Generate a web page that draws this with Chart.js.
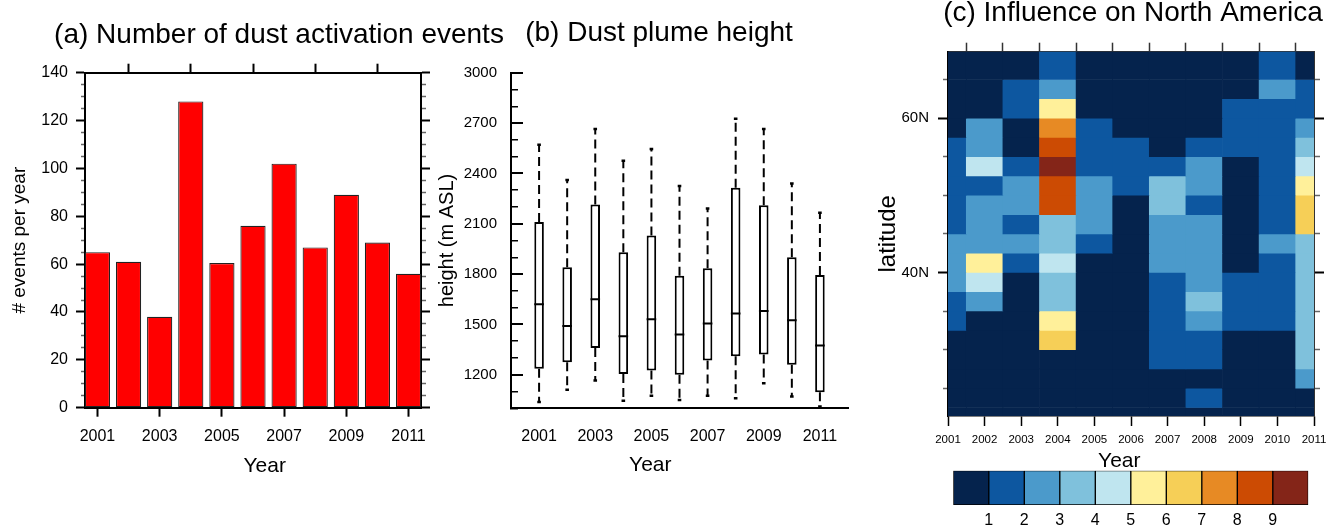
<!DOCTYPE html>
<html>
<head>
<meta charset="utf-8">
<script src="https://cdn.jsdelivr.net/npm/chart.js@4.4.1/dist/chart.umd.min.js"></script>
<style>
  html, body { margin: 0; padding: 0; background: #fff; overflow: hidden; }
  body { width: 1328px; height: 528px; position: relative; }
  canvas { position: absolute; }
  #events { left: 0; top: 0; }
  #plume { left: 420px; top: 0; }
  #influence { left: 870px; top: -20px; }
  #colorbar { left: 940px; top: 462px; }
</style>
</head>
<body>
<canvas id="events" width="558" height="528"></canvas>
<canvas id="plume" width="478" height="528"></canvas>
<canvas id="influence" width="526" height="548"></canvas>
<canvas id="colorbar" width="388" height="66"></canvas>
<script>
Chart.defaults.font.family = "'Liberation Sans', Arial, Helvetica, sans-serif";
Chart.defaults.color = '#000';
Chart.defaults.animation = false;
Chart.defaults.responsive = false;
Chart.defaults.plugins.legend.display = false;
Chart.defaults.plugins.tooltip.enabled = false;

// years shown on every panel
const years = [2001, 2002, 2003, 2004, 2005, 2006, 2007, 2008, 2009, 2010, 2011];
const oddYears = [2001, 2003, 2005, 2007, 2009, 2011];

// (a) dust activation events per year
const eventCounts = [65, 61, 38, 128, 60.5, 76, 102, 67, 89, 69, 56];

// (b) plume height box plots (m ASL)
const plumeMax = [2570, 2360, 2665, 2475, 2545, 2325, 2190, 2725, 2665, 2340, 2165];
const plumeQ3  = [2110, 1840, 2215, 1930, 2030, 1790, 1835, 2315, 2210, 1900, 1795];
const plumeMed = [1620, 1490, 1650, 1430, 1530, 1440, 1505, 1565, 1580, 1525, 1375];
const plumeQ1  = [1235, 1275, 1360, 1205, 1225, 1200, 1285, 1310, 1320, 1260, 1095];
const plumeMin = [1037, 1110, 1165, 1045, 1075, 1050, 1075, 1060, 1150, 1070, 1010];

// (c) influence on North America: latitude band edges (north to south)
// and one string per band, one digit per year = colour class
const latEdges = [70, 65, 62.5, 60, 57.5, 55, 52.5, 50, 47.5, 45, 42.5, 40,
                  37.5, 35, 32.5, 30, 27.5, 25, 22.5, 20];
const classRows = [
  '00010000010',
  '00120000021',
  '00150000111',
  '02071000112',
  '12081101113',
  '14191112014',
  '11282132015',
  '12282031016',
  '12132022016',
  '22231022023',
  '25140022013',
  '24030012113',
  '12030013113',
  '10050012113',
  '00060011003',
  '00000011003',
  '00000000002',
  '00000001000',
  '00000000000'
];
const latTicks = [25, 30, 35, 40, 45, 50, 55, 60, 65];
const levelColors = ['#05234d', '#0d57a0', '#4b9acb', '#7fc1dc', '#bfe5ef',
                     '#fff09a', '#f6cf57', '#e78a24', '#cc4b03', '#842518'];
const levelTicks = [1, 2, 3, 4, 5, 6, 7, 8, 9];

// helpers
const fixWidth = (w) => (s) => { s.width = w; };
const fixHeight = (h) => (s) => { s.height = h; };
const setTicks = (vals) => (s) => { s.ticks = vals.map(v => ({ value: v })); };
const frame = { display: true, color: '#000', width: 2 };
// axis titles sit a bit off-centre in the original, nudge them with spaces
const nudge = (text, n) => n > 0 ? '\u00a0'.repeat(n) + text : text + '\u00a0'.repeat(-n);

// outward ticks, minor ones shorter and grey (dash keeps only the part by the frame)
function outTicks(isMajor, len, minorLen, fromOuter) {
  const major = (c) => !c.tick || isMajor(c.tick.value);
  return {
    drawOnChartArea: false,
    tickLength: len,
    tickWidth: (c) => major(c) ? 2 : 1.5,
    tickColor: (c) => major(c) ? '#000' : '#666',
    tickBorderDash: (c) => major(c) ? [] :
      (fromOuter ? [0, len - minorLen, minorLen, 200] : [minorLen, 200])
  };
}

// ---------- (a) ----------
const by20 = (v) => v % 20 === 0;
new Chart(document.getElementById('events'), {
  type: 'bar',
  data: {
    datasets: [{
      data: years.map((yr, i) => ({ x: yr, y: eventCounts[i] })),
      backgroundColor: '#ff0000',
      borderColor: '#222',
      borderWidth: 1.2,
      borderSkipped: false,
      categoryPercentage: 1,
      barPercentage: 0.81,
      clip: 0
    }]
  },
  options: {
    layout: { padding: 0 },
    plugins: {
      title: {
        display: true, text: '(a) Number of dust activation events',
        font: { size: 28, weight: 'normal' }, padding: { top: 18, bottom: 12.1 }
      }
    },
    scales: {
      x: {
        type: 'linear', position: 'bottom', min: 2000.6, max: 2011.4, offset: false,
        afterBuildTicks: setTicks(oddYears), afterFit: fixHeight(120.3),
        grid: { drawOnChartArea: false, offset: false, tickLength: 9, tickWidth: 2, tickColor: '#000' },
        border: frame,
        ticks: { font: { size: 16 }, padding: 10.4, maxRotation: 0, autoSkip: false, callback: v => String(v) },
        title: { display: true, text: nudge('Year', 4), font: { size: 21 }, padding: { top: 0, bottom: 49.4 } }
      },
      x2: {
        type: 'linear', position: 'top', min: 2000.6, max: 2011.4, offset: false,
        afterBuildTicks: setTicks(oddYears), afterFit: fixHeight(9),
        grid: { drawOnChartArea: false, tickLength: 9, tickWidth: 2, tickColor: '#000' },
        border: frame,
        ticks: { display: false }
      },
      y: {
        type: 'linear', position: 'left', min: 0, max: 140, afterFit: fixWidth(85),
        grid: outTicks(by20, 9, 4, true),
        border: frame,
        ticks: { stepSize: 5, autoSkip: false, font: { size: 16 }, padding: 8,
                 callback: v => by20(v) ? String(v) : '' },
        title: { display: true, text: '# events per year', font: { size: 19 }, padding: { top: 8.6, bottom: 0 } }
      },
      y2: {
        type: 'linear', position: 'right', min: 0, max: 140, afterFit: fixWidth(137),
        grid: outTicks(by20, 9, 4, false),
        border: frame,
        ticks: { display: false, stepSize: 5, autoSkip: false }
      }
    }
  }
});

// ---------- (b) ----------
const by300 = (v) => v >= 1200 && v % 300 === 0;
const whiskers = [];
years.forEach((yr, i) => {
  whiskers.push({ x: yr, y: plumeQ3[i] }, { x: yr, y: plumeMax[i] }, { x: yr, y: null },
                { x: yr, y: plumeQ1[i] }, { x: yr, y: plumeMin[i] }, { x: yr, y: null });
});
const caps = years.map((yr, i) => ({ x: yr, y: plumeMax[i] }))
  .concat(years.map((yr, i) => ({ x: yr, y: plumeMin[i] })));

// first dataset is drawn on top: medians and caps first, then boxes, whiskers last
new Chart(document.getElementById('plume'), {
  type: 'bar',
  data: {
    datasets: [
      {
        type: 'scatter', data: years.map((yr, i) => ({ x: yr, y: plumeMed[i] })),
        pointStyle: 'line', pointRadius: 4.8, borderColor: '#000',
        pointBorderColor: '#000', pointBorderWidth: 2, order: 0
      },
      {
        type: 'scatter', data: caps,
        pointStyle: 'line', pointRadius: 1.8, borderColor: '#000',
        pointBorderColor: '#000', pointBorderWidth: 2.5, order: 0
      },
      {
        type: 'bar',
        data: years.map((yr, i) => ({ x: yr, y: [plumeQ1[i], plumeQ3[i]] })),
        backgroundColor: '#fff', borderColor: '#000', borderWidth: 2,
        borderSkipped: false, categoryPercentage: 1, barPercentage: 0.34, order: 1
      },
      {
        type: 'line', data: whiskers, borderColor: '#000', borderWidth: 2,
        borderDash: [9, 5], pointRadius: 0, spanGaps: false, order: 2
      }
    ]
  },
  options: {
    layout: { padding: 0 },
    plugins: {
      title: {
        display: true, text: '(b) Dust plume height',
        font: { size: 28, weight: 'normal' }, padding: { top: 16.2, bottom: 22.9 }
      }
    },
    scales: {
      x: {
        type: 'linear', position: 'bottom', min: 2000, max: 2012, offset: false,
        afterBuildTicks: setTicks(oddYears), afterFit: fixHeight(119.7),
        grid: { display: false, drawTicks: false, offset: false },
        border: frame,
        ticks: { font: { size: 16 }, padding: 19, maxRotation: 0, autoSkip: false, callback: v => String(v) },
        title: { display: true, text: nudge('Year', -10), font: { size: 21 }, padding: { top: 0, bottom: 50.4 } }
      },
      y: {
        type: 'linear', position: 'left', min: 1000, max: 3000, afterFit: fixWidth(91),
        grid: {
          drawTicks: false, drawOnChartArea: true, color: '#000',
          lineWidth: (c) => (c.tick && by300(c.tick.value)) ? 2 : 1.5
        },
        border: {
          display: true, color: '#000', width: 2,
          dash: (c) => c.tick ? (by300(c.tick.value) ? [11, 4000] : [6, 4000]) : []
        },
        ticks: { stepSize: 100, autoSkip: false, font: { size: 15 }, padding: 14,
                 callback: v => by300(v) ? String(v) : '' },
        title: { display: true, text: 'height (m ASL)', font: { size: 20 }, padding: { top: 15.5, bottom: 0 } }
      },
      yR: {
        type: 'linear', position: 'right', afterFit: fixWidth(50),
        grid: { display: false, drawTicks: false },
        border: { display: false },
        ticks: { display: false }
      }
    }
  }
});

// ---------- (c) ----------
const by20N = (v) => v % 20 === 0;
const bandSets = classRows.map((row, r) => ({
  data: years.map((yr) => ({ x: yr, y: [latEdges[r + 1], latEdges[r]] })),
  backgroundColor: row.split('').map(d => levelColors[Number(d)]),
  borderWidth: 0,
  grouped: false,
  categoryPercentage: 1,
  barPercentage: 1,
  clip: 0
}));

new Chart(document.getElementById('influence'), {
  type: 'bar',
  data: { datasets: bandSets },
  options: {
    layout: { padding: 0 },
    plugins: {
      title: {
        display: true, text: '(c) Influence on North America',
        font: { size: 28, weight: 'normal' }, padding: { top: 16.2, bottom: 12.4 }
      }
    },
    scales: {
      x: {
        type: 'linear', position: 'bottom', min: 2001, max: 2011, offset: false,
        afterBuildTicks: setTicks(years), afterFit: fixHeight(112),
        grid: { drawOnChartArea: false, offset: false, tickLength: 10, tickWidth: 1.5, tickColor: '#000' },
        border: { display: true, color: '#000', width: 1.5 },
        ticks: { font: { size: 11.5 }, padding: 7, maxRotation: 0, autoSkip: false, callback: v => String(v) },
        title: { display: true, text: nudge('Year', -4), font: { size: 21 }, padding: { top: 0, bottom: 54.4 } }
      },
      x2: {
        type: 'linear', position: 'top', min: 2001, max: 2011, offset: false,
        afterBuildTicks: setTicks(years), afterFit: fixHeight(9.5),
        grid: { drawOnChartArea: false, tickLength: 9, tickWidth: 1.5, tickColor: '#333' },
        border: { display: true, color: '#333', width: 1 },
        ticks: { display: false }
      },
      y: {
        type: 'linear', position: 'left', min: 21.4, max: 68.6,
        afterBuildTicks: setTicks(latTicks), afterFit: fixWidth(78),
        grid: outTicks(by20N, 10, 5, true),
        border: { display: true, color: '#000', width: 1.5 },
        ticks: { font: { size: 15 }, padding: 9, autoSkip: false,
                 callback: v => by20N(v) ? v + 'N' : '' },
        title: { display: true, text: 'latitude', font: { size: 24 }, padding: { top: 3.9, bottom: 0 } }
      },
      y2: {
        type: 'linear', position: 'right', min: 21.4, max: 68.6,
        afterBuildTicks: setTicks(latTicks), afterFit: fixWidth(82),
        grid: outTicks(by20N, 10, 5, false),
        border: { display: true, color: '#333', width: 1 },
        ticks: { display: false }
      }
    }
  }
});

// ---------- colour bar ----------
new Chart(document.getElementById('colorbar'), {
  type: 'bar',
  data: {
    labels: [''],
    datasets: levelColors.map(col => ({
      data: [1], backgroundColor: col, borderColor: '#000', borderWidth: 1,
      borderSkipped: false, categoryPercentage: 1, barPercentage: 1
    }))
  },
  options: {
    indexAxis: 'y',
    layout: { padding: { left: 13.3, right: 19.7, top: 8.7, bottom: 0 } },
    scales: {
      x: {
        type: 'linear', stacked: true, min: 0, max: 10,
        afterBuildTicks: setTicks(levelTicks), afterFit: fixHeight(23),
        grid: { display: false, drawTicks: false },
        border: { display: false },
        ticks: { font: { size: 16 }, padding: 6.4, autoSkip: false, callback: v => String(v) }
      },
      y: { stacked: true, display: false }
    }
  }
});
</script>
</body>
</html>
